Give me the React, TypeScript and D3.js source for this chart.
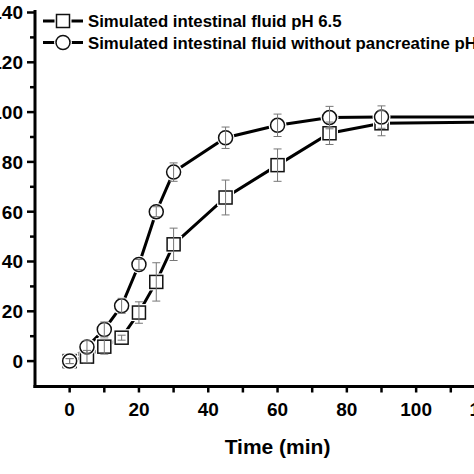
import React from "react";
import * as d3 from "d3";

const times = [0, 5, 10, 15, 20, 25, 30, 45, 60, 75, 90, 120];
const seriesA = [0, 1.8, 5.8, 9.4, 19.5, 31.8, 46.9, 65.7, 78.7, 91.5, 95.5, 96];
const errA = [1, 2.5, 3, 1, 4.3, 7.7, 6.5, 7, 6.5, 4.5, 5, 3];
const seriesB = [0, 5.7, 12.7, 22.2, 38.8, 60, 75.9, 89.7, 94.7, 97.8, 98, 98];
const errB = [1, 2.5, 3, 3, 2, 2, 3.7, 4.3, 4.5, 4.5, 4.5, 3];
const legendLabels = [
  "Simulated intestinal fluid pH 6.5",
  "Simulated intestinal fluid without pancreatine pH 6.5",
];
const xMajor = [0, 20, 40, 60, 80, 100, 120];
const xMinor = [10, 30, 50, 70, 90, 110, 130];
const yMajor = [0, 20, 40, 60, 80, 100, 120, 140];
const yMinor = [10, 30, 50, 70, 90, 110, 130];

const W = 474;
const H = 474;
const FONT = "'Liberation Sans', Arial, Helvetica, sans-serif";

export default function App() {
  const x = d3.scaleLinear().domain([-10, 130]).range([35, 520.1]);
  const y = d3.scaleLinear().domain([-10, 140]).range([386, 12.5]);
  const line = d3
    .line<number>()
    .x((_, i) => x(times[i]))
    .y((v) => y(v));

  const axisY = 386.5;
  const axisX = 35;

  const errBars = (vals: number[], errs: number[], key: string) =>
    vals.map((v, i) => {
      const cx = x(times[i]);
      const top = y(v + errs[i]);
      const bot = y(v - errs[i]);
      return (
        <g key={key + i} stroke="#777" strokeWidth={1}>
          <line x1={cx} x2={cx} y1={top} y2={bot} />
          <line x1={cx - 4} x2={cx + 4} y1={top} y2={top} />
          <line x1={cx - 4} x2={cx + 4} y1={bot} y2={bot} />
        </g>
      );
    });

  const square = (cx: number, cy: number, key: string) => (
    <g key={key}>
      <rect x={cx - 8.5} y={cy - 8.5} width={17} height={17} fill="#fff" />
      <rect x={cx - 6.5} y={cy - 6.5} width={13} height={13} fill="#fff" stroke="#111" strokeWidth={1.5} />
    </g>
  );
  const circle = (cx: number, cy: number, key: string) => (
    <g key={key}>
      <circle cx={cx} cy={cy} r={9} fill="#fff" />
      <circle cx={cx} cy={cy} r={7} fill="#fff" stroke="#111" strokeWidth={1.5} />
    </g>
  );

  return (
    <svg
      width={W}
      height={H}
      style={{ position: "absolute", left: 0, top: 0, background: "#fff", overflow: "hidden" }}
      fontFamily={FONT}
      fontWeight="bold"
    >
      <rect width={W} height={H} fill="#fff" />
      {/* data lines */}
      <path d={line(seriesA) || ""} fill="none" stroke="#000" strokeWidth={3} />
      <path d={line(seriesB) || ""} fill="none" stroke="#000" strokeWidth={3} />
      {/* markers */}
      {seriesA.map((v, i) => square(x(times[i]), y(v), "sa" + i))}
      {seriesB.map((v, i) => circle(x(times[i]), y(v), "sb" + i))}
      {errBars(seriesA, errA, "ea")}
      {errBars(seriesB, errB, "eb")}

      {/* axes */}
      <line x1={axisX} x2={axisX} y1={10} y2={axisY + 1.5} stroke="#000" strokeWidth={3} />
      <line x1={axisX - 1.5} x2={W + 10} y1={axisY} y2={axisY} stroke="#000" strokeWidth={3} />
      {yMajor.map((v) => (
        <g key={"ym" + v}>
          <line x1={axisX - 8} x2={axisX} y1={y(v)} y2={y(v)} stroke="#000" strokeWidth={2.5} />
          <text x={23} y={y(v)} dy="0.36em" textAnchor="end" fontSize={19} fill="#000">
            {v}
          </text>
        </g>
      ))}
      {yMinor.map((v) => (
        <line key={"yn" + v} x1={axisX - 5} x2={axisX} y1={y(v)} y2={y(v)} stroke="#000" strokeWidth={2.5} />
      ))}
      {xMajor.map((v) => (
        <g key={"xm" + v}>
          <line x1={x(v)} x2={x(v)} y1={axisY} y2={axisY + 6} stroke="#000" strokeWidth={2.5} />
          <text x={x(v)} y={415.5} textAnchor="middle" fontSize={19} fill="#000">
            {v}
          </text>
        </g>
      ))}
      {xMinor.map((v) => (
        <line key={"xn" + v} x1={x(v)} x2={x(v)} y1={axisY} y2={axisY + 6} stroke="#000" strokeWidth={2.5} />
      ))}
      <text x={x(60)} y={454} textAnchor="middle" fontSize={21} fill="#000">
        Time (min)
      </text>

      {/* legend */}
      {legendLabels.map((lab, i) => {
        const ly = 21 + i * 21.5;
        return (
          <g key={"lg" + i}>
            <line x1={43} x2={83} y1={ly} y2={ly} stroke="#000" strokeWidth={3} />
            {i === 0 ? square(63, ly, "ls") : circle(63, ly, "lc")}
            <text x={88} y={ly + 6.3} fontSize={16.8} fill="#000">
              {lab}
            </text>
          </g>
        );
      })}
    </svg>
  );
}
